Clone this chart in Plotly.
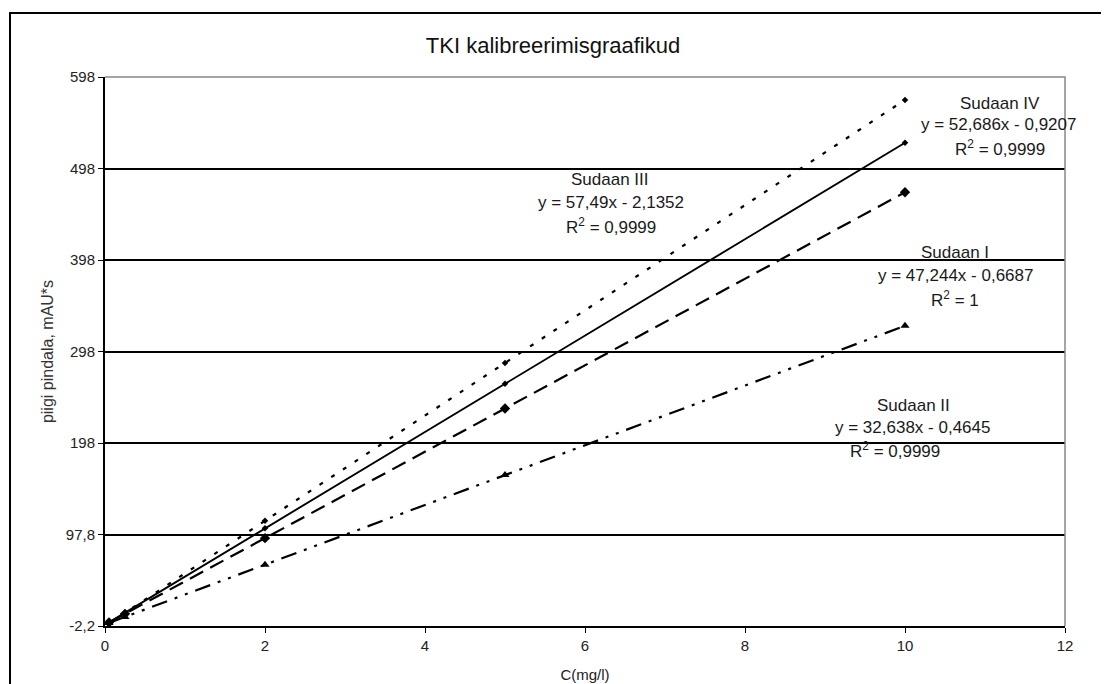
import plotly.graph_objects as go

# Data
conc = [0.05, 0.25, 2, 5, 10]
sudaan_iii = [0.7, 12.2, 112.8, 285.3, 572.8]
sudaan_iv = [1.7, 12.2, 104.5, 262.5, 525.9]
sudaan_i = [1.7, 11.1, 93.8, 235.5, 471.8]
sudaan_ii = [1.2, 7.7, 64.8, 162.7, 325.9]

y_tickvals = [-2.2, 97.8, 197.8, 297.8, 397.8, 497.8, 597.8]
y_ticktext = ["-2,2", "97,8", "198", "298", "398", "498", "598"]
x_tickvals = [0, 2, 4, 6, 8, 10, 12]

FONT = "Liberation Sans, Arial, sans-serif"

fig = go.Figure()
fig.add_trace(go.Scatter(x=conc, y=sudaan_iii, mode="lines+markers", name="Sudaan III",
                         line=dict(color="black", width=2.2, dash="4px,10px"),
                         marker=dict(symbol="diamond", size=5, color="black")))
fig.add_trace(go.Scatter(x=conc, y=sudaan_iv, mode="lines+markers", name="Sudaan IV",
                         line=dict(color="black", width=1.9),
                         marker=dict(symbol="diamond", size=5, color="black")))
fig.add_trace(go.Scatter(x=conc, y=sudaan_i, mode="lines+markers", name="Sudaan I",
                         line=dict(color="black", width=2.2, dash="15px,8px"),
                         marker=dict(symbol="diamond", size=8, color="black")))
fig.add_trace(go.Scatter(x=conc, y=sudaan_ii, mode="lines+markers", name="Sudaan II",
                         line=dict(color="black", width=2.2, dash="16px,8px,3px,8px,3px,8px"),
                         marker=dict(symbol="triangle-up", size=8, color="black")))

# page body has an 8px margin, so figure coords = screen coords - 8
OFF = 8
L, T, B, R = 105 - OFF, 77 - OFF, 626 - OFF, 1065 - OFF
W, H = 1109, 684


def px2d(px, py):
    return (px - 105) / 80.0, (626 - py) / (549 / 600.0) - 2.2


labels = [
    ("Sudaan IV", 1000, 103), ("y = 52,686x - 0,9207", 998, 124), ("R<sup>2</sup> = 0,9999", 1000, 148),
    ("Sudaan III", 610, 179), ("y = 57,49x - 2,1352", 611, 202), ("R<sup>2</sup> = 0,9999", 611, 226),
    ("Sudaan I", 955, 252), ("y = 47,244x - 0,6687", 955, 275), ("R<sup>2</sup> = 1", 955, 299),
    ("Sudaan II", 913, 405), ("y = 32,638x - 0,4645", 912, 427), ("R<sup>2</sup> = 0,9999", 895, 450),
]
for txt, px, py in labels:
    xd, yd = px2d(px, py)
    fig.add_annotation(x=xd, y=yd, text=txt, showarrow=False, xref="x", yref="y",
                       font=dict(family=FONT, size=17, color="#1a1a1a"))

# outer chart frame
fig.add_shape(type="rect", xref="paper", yref="paper",
              x0=(10 - 105) / 960, x1=(1125 - 105) / 960,
              y0=(626 - 700) / 549, y1=(626 - 13) / 549,
              line=dict(color="black", width=2), layer="below")
# plot area top/right border in gray
fig.add_shape(type="path", xref="paper", yref="paper",
              path="M 0,1 L 1,1 L 1,0", line=dict(color="#888", width=1.5))

fig.update_layout(
    width=W, height=H,
    margin=dict(l=L, r=W - R, t=T, b=H - B),
    paper_bgcolor="white", plot_bgcolor="white",
    showlegend=False,
    font=dict(family=FONT, size=15, color="#222"),
    title=dict(text="TKI kalibreerimisgraafikud", x=(553 - OFF) / W, xanchor="center",
               y=1 - (45 - OFF) / H, yanchor="middle",
               font=dict(family=FONT, size=22, color="#111")),
)
fig.update_xaxes(range=[0, 12], tickvals=x_tickvals, ticks="outside", ticklen=5,
                 tickcolor="black", showline=True, linecolor="black", linewidth=2,
                 showgrid=False, zeroline=False,
                 tickfont=dict(size=15, color="#222"),
                 title=dict(text="C(mg/l)", font=dict(size=15, color="#222"), standoff=16))
fig.update_yaxes(range=[-2.2, 597.8], tickvals=y_tickvals, ticktext=y_ticktext,
                 ticks="outside", ticklen=5, tickcolor="black",
                 showline=True, linecolor="black", linewidth=2,
                 showgrid=True, gridcolor="black", gridwidth=1.8, zeroline=False,
                 tickfont=dict(size=15, color="#222"),
                 title=dict(text="piigi pindala, mAU*s", font=dict(size=16, color="#333"), standoff=8))

fig.write_html("out.html")
